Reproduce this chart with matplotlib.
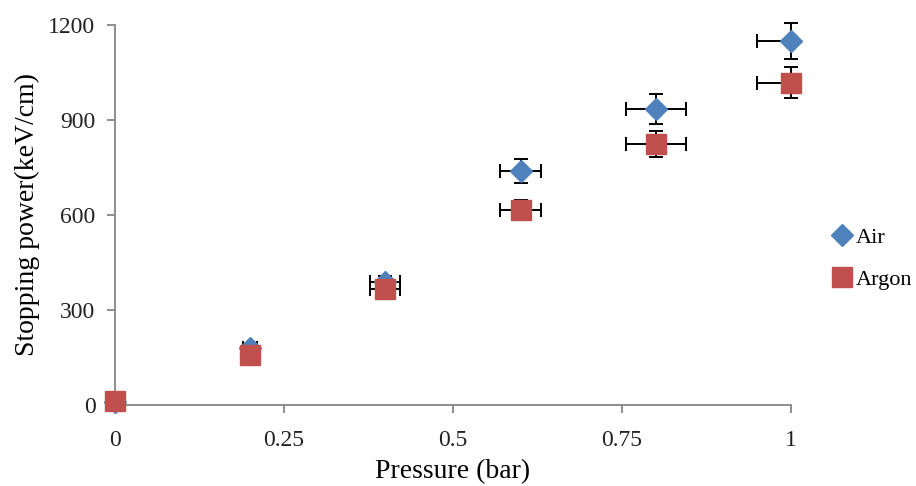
import matplotlib.pyplot as plt
import numpy as np

plt.rcParams['font.family'] = ['Liberation Serif', 'DejaVu Serif']

pressure = [0.0, 0.2, 0.4, 0.6, 0.8, 1.0]
air = [10, 180, 388, 739, 935, 1149]
argon = [12, 158, 366, 616, 824, 1017]
x_err = [0.0, 0.01, 0.022, 0.03, 0.044, 0.05]
air_err = [0, 9, 19, 37, 47, 57]
argon_err = [0, 8, 18, 31, 41, 49]

AIR_COLOR = '#4F81BD'
ARGON_COLOR = '#C0504D'
AXIS_COLOR = '#868686'

fig = plt.figure(figsize=(9.16, 4.86), dpi=100)
ax = fig.add_axes([0.1255, 0.1667, 0.738, 0.782])

for vals, errs in ((air, air_err), (argon, argon_err)):
  # horizontal bars get clipped at x=1 like the original
  ax.errorbar(pressure, vals, xerr=x_err, fmt='none', ecolor='black',
              elinewidth=1.4, capsize=5, capthick=1.4)
  _, caps, bars = ax.errorbar(pressure, vals, yerr=errs, fmt='none', ecolor='black',
                              elinewidth=1.4, capsize=5, capthick=1.4)
  for c in caps:
    c.set_clip_on(False)
  for b in bars:
    b.set_clip_on(False)

ax.plot(pressure, air, linestyle='none', marker='D', markersize=11,
        color=AIR_COLOR, label='Air', clip_on=False, zorder=3)
ax.plot(pressure, argon, linestyle='none', marker='s', markersize=14,
        color=ARGON_COLOR, label='Argon', clip_on=False, zorder=4)

ax.set_xlim(0, 1)
ax.set_ylim(0, 1200)
ax.set_xticks([0, 0.25, 0.5, 0.75, 1], ['0', '0.25', '0.5', '0.75', '1'])
ax.set_yticks([0, 300, 600, 900, 1200])

for side in ('top', 'right'):
  ax.spines[side].set_visible(False)
for side in ('left', 'bottom'):
  ax.spines[side].set_color(AXIS_COLOR)
  ax.spines[side].set_linewidth(1.3)
ax.tick_params(colors=AXIS_COLOR, labelcolor='#222222', labelsize=17,
               length=6, width=1.3)
ax.tick_params(axis='y', pad=8)
ax.tick_params(axis='x', pad=12)

ax.set_xlabel('Pressure (bar)', fontsize=20, labelpad=6)
ax.set_ylabel('Stopping power(keV/cm)', fontsize=20, labelpad=6)

ax.legend(loc='center left', bbox_to_anchor=(1.0, 0.385), frameon=False,
          fontsize=16, handletextpad=0.0, handlelength=1.2, labelspacing=0.95,
          borderaxespad=1.3)

plt.savefig('out.png', dpi=100)
